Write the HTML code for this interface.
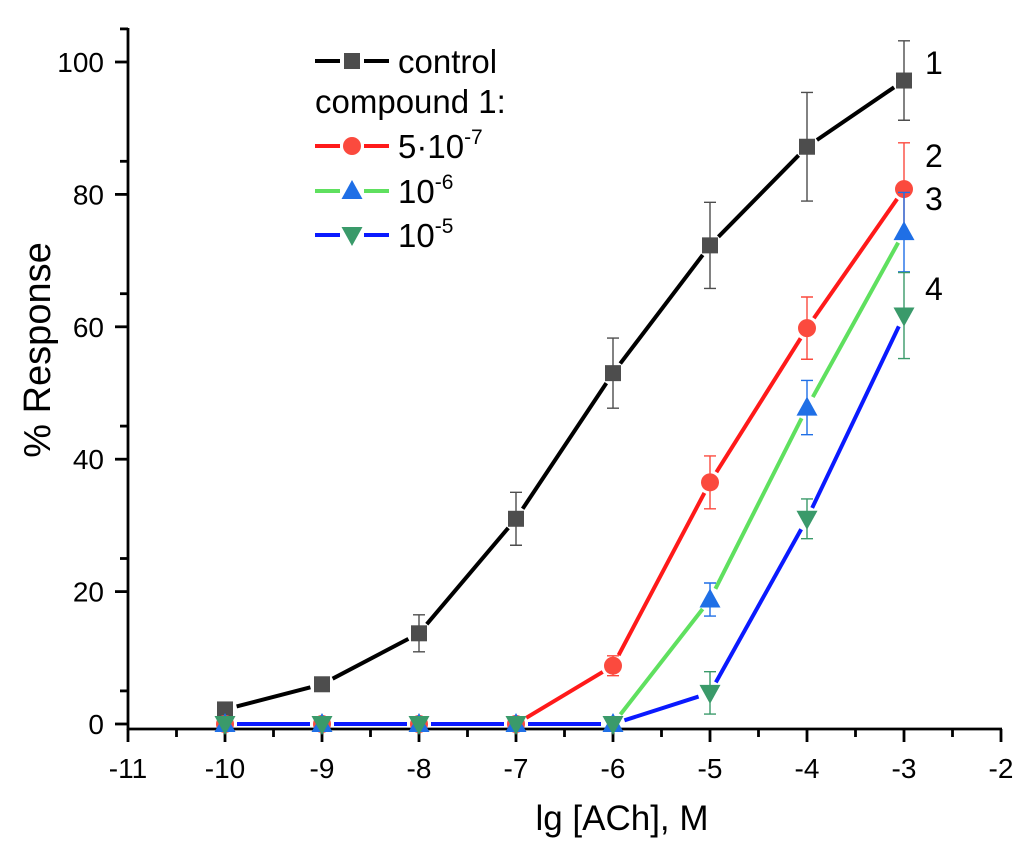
<!DOCTYPE html>
<html><head><meta charset="utf-8"><style>
body{margin:0;background:#fff;}
svg{display:block;font-family:"Liberation Sans",Arial,sans-serif;}
</style></head><body>
<svg id="c" width="1024" height="844" viewBox="0 0 1024 844"></svg>
<script>
const xCats=[-10,-9,-8,-7,-6,-5,-4,-3];
const controlVals=[2.2,6,13.7,31,53,72.3,87.2,97.2];
const controlErr=[0,1,2.8,4,5.3,6.5,8.2,6];
const c57Vals=[0,0,0,0,8.8,36.5,59.8,80.8];
const c57Err=[0,0,0,0,1.5,4,4.7,7];
const c6Vals=[0,0,0,0,0,18.8,47.8,74.3];
const c6Err=[0,0,0,0,0,2.5,4.1,6];
const c5Vals=[0,0,0,0,0,4.7,31,61.7];
const c5Err=[0,0,0,0,0,3.2,3,6.5];
const xTicks=[-11,-10,-9,-8,-7,-6,-5,-4,-3,-2];
const yTicks=[0,20,40,60,80,100];

const NS="http://www.w3.org/2000/svg";
const svg=document.getElementById('c');
const X=v=>128+(v+11)*97;
const Y=v=>724-v*6.62;
function mk(tag,a,parent){const e=document.createElementNS(NS,tag);for(const k in a)e.setAttribute(k,a[k]);(parent||svg).appendChild(e);return e;}

let ax=mk('line',{x1:128,y1:28,x2:128,y2:730,stroke:'#000','stroke-width':2.8});


ax=mk('line',{x1:127,y1:729,x2:1002,y2:729,stroke:'#000','stroke-width':2.8});


xTicks.forEach((t,i)=>{
  const x=X(t);
  let l=mk('line',{x1:x,y1:729,x2:x,y2:742,stroke:'#000','stroke-width':2.8});
  
  
  if(i<xTicks.length-1){let m=mk('line',{x1:x+48.5,y1:729,x2:x+48.5,y2:737,stroke:'#000','stroke-width':2.8});
  
  }
  let tx=mk('text',{x:x,y:778,'font-size':28,'text-anchor':'middle'});tx.textContent=t;
  
  
});
yTicks.forEach((t,i)=>{
  const y=Y(t);
  let l=mk('line',{x1:115,y1:y,x2:128,y2:y,stroke:'#000','stroke-width':2.8});
  
  
  let m=mk('line',{x1:120,y1:y-33.1,x2:128,y2:y-33.1,stroke:'#000','stroke-width':2.8});
  
  
  let tx=mk('text',{x:104,y:y+10,'font-size':28,'text-anchor':'end'});tx.textContent=t;
  
  
});
let t=mk('text',{x:622,y:830,'font-size':35,'text-anchor':'middle'});t.textContent='lg [ACh], M';


t=mk('text',{x:0,y:0,'font-size':38,'text-anchor':'middle',transform:'translate(50,350) rotate(-90)'});t.textContent='% Response';



function marker(g,shape,x,y,col){
  let e;
  if(shape==='sq')e=mk('rect',{x:x-8,y:y-8,width:16,height:16,fill:col},g);
  else if(shape==='c')e=mk('circle',{cx:x,cy:y,r:9,fill:col},g);
  else if(shape==='up')e=mk('polygon',{points:`${x},${y-11} ${x-10.5},${y+8} ${x+10.5},${y+8}`,fill:col},g);
  else e=mk('polygon',{points:`${x},${y+11} ${x-10.5},${y-8} ${x+10.5},${y-8}`,fill:col},g);
  return e;
}
function series(name,vals,err,lineCol,mCol,shape){
  const g=mk('g',{});
  
  
  const pts=xCats.map((c,i)=>[X(c),Y(vals[i])]);
  for(let i=0;i<pts.length-1;i++){
    const [x1,y1]=pts[i],[x2,y2]=pts[i+1];
    const d=Math.hypot(x2-x1,y2-y1),gp=12;
    if(d<=2*gp)continue;
    const ux=(x2-x1)/d,uy=(y2-y1)/d;
    let l=mk('line',{x1:x1+ux*gp,y1:y1+uy*gp,x2:x2-ux*gp,y2:y2-uy*gp,stroke:lineCol,'stroke-width':4},g);
    
    
  }
  pts.forEach(([x,y],i)=>{
    if(err[i]>0){
      const e=err[i]*6.62;
      const p=mk('path',{d:`M${x},${y-e}V${y+e}M${x-6},${y-e}H${x+6}M${x-6},${y+e}H${x+6}`,stroke:mCol,'stroke-width':1.4,fill:'none'},g);
      
      
    }
    const m=marker(g,shape,x,y,mCol);
    
    
  });
}
series('control',controlVals,controlErr,'#000','#4d4d4d','sq');
series('compound-5e-7',c57Vals,c57Err,'#ff1a1a','#fb4a3e','c');
series('compound-1e-6',c6Vals,c6Err,'#5fe05f','#1f6fe6','up');
series('compound-1e-5',c5Vals,c5Err,'#0a1aff','#3a9a6a','dn');

[['1',62],['2',155],['3',198],['4',288]].forEach(([s,y])=>{
  const tx=mk('text',{x:925,y:y+12,'font-size':32});tx.textContent=s;
  
  
});

const lg=mk('g',{});


function legRow(y,lc,mc,shape,label,sup){
  mk('line',{x1:315,y1:y,x2:340,y2:y,stroke:lc,'stroke-width':4},lg);
  mk('line',{x1:364,y1:y,x2:389,y2:y,stroke:lc,'stroke-width':4},lg);
  marker(lg,shape,352,y,mc);
  const tx=mk('text',{x:398,y:y+12,'font-size':33},lg);
  tx.textContent=label;
  if(sup){const s=mk('tspan',{dy:-14,'font-size':21},tx);s.textContent=sup;}
  
  
}
legRow(61,'#000','#4d4d4d','sq','control');
let ct=mk('text',{x:315,y:113,'font-size':33},lg);ct.textContent='compound 1:';


legRow(146,'#ff1a1a','#fb4a3e','c','5·10','-7');
legRow(191,'#5fe05f','#1f6fe6','up','10','-6');
legRow(235,'#0a1aff','#3a9a6a','dn','10','-5');
</script>
</body></html>
